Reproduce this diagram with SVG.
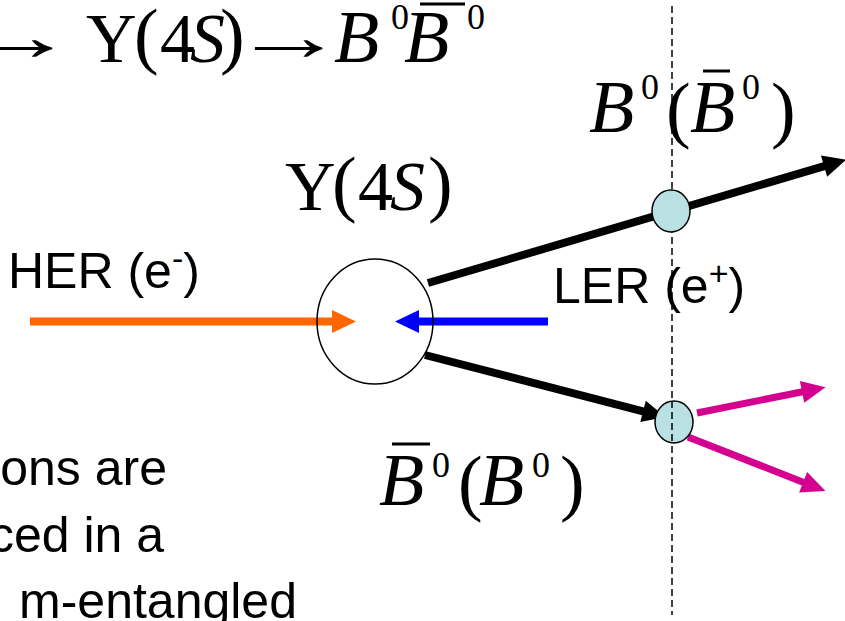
<svg xmlns="http://www.w3.org/2000/svg" width="845" height="621" viewBox="0 0 845 621">
<style>
.m{font-family:"Liberation Serif","Times New Roman",serif;font-size:70px;fill:#000}
.i{font-style:italic}
.b{font-size:74px}
.s{font-size:36px}
.p{font-size:74px}
.t{font-family:"Liberation Sans",Arial,sans-serif;font-size:50px;fill:#000}
.bar{stroke:#000;stroke-width:3}
.blk{stroke:#000;stroke-width:8;fill:none}
.org{stroke:#FF6600;stroke-width:8;fill:none}
.blu{stroke:#0000FF;stroke-width:8;fill:none}
.mag{stroke:#D4008F;stroke-width:7;fill:none}
.dot{fill:#B9E0E3;stroke:#000;stroke-width:1.5}
.dash{stroke:#000;stroke-width:1.5;stroke-dasharray:7 4}
</style>
<defs>
<marker id="hBlk" markerUnits="userSpaceOnUse" markerWidth="24" markerHeight="24" refX="2" refY="11" orient="auto" overflow="visible"><path d="M0,0 L23,11 L0,22 z" fill="#000"/></marker>
<marker id="hOrg" markerUnits="userSpaceOnUse" markerWidth="26" markerHeight="24" refX="2" refY="11.5" orient="auto" overflow="visible"><path d="M0,0 L24,11.5 L0,23 z" fill="#FF6600"/></marker>
<marker id="hBlu" markerUnits="userSpaceOnUse" markerWidth="26" markerHeight="24" refX="2" refY="11.5" orient="auto" overflow="visible"><path d="M0,0 L24,11.5 L0,23 z" fill="#0000FF"/></marker>
<marker id="hMag" markerUnits="userSpaceOnUse" markerWidth="26" markerHeight="24" refX="2" refY="11" orient="auto" overflow="visible"><path d="M0,0 L24,11 L0,22 z" fill="#D4008F"/></marker>
</defs>

<g id="formula">
<text class="m" x="-46" y="60" textLength="124" lengthAdjust="spacingAndGlyphs">→</text>
<text class="m" x="86" y="62">Υ</text>
<text class="m p" x="134" y="60">(</text>
<text class="m" x="160" y="62">4</text>
<text class="m i" x="190" y="62">S</text>
<text class="m p" x="220" y="60">)</text>
<text class="m" x="232" y="60" textLength="114" lengthAdjust="spacingAndGlyphs">→</text>
<text class="m i b" x="334" y="62">B</text>
<text class="m s" x="391" y="29">0</text>
<text class="m i b" x="404" y="62">B</text>
<line class="bar" x1="420" y1="4" x2="465" y2="4"/>
<text class="m s" x="467" y="29">0</text>
</g>

<g id="dashed-line">
<line class="dash" x1="672" y1="6" x2="672" y2="615"/>
</g>

<g id="connectors">
<line class="org" x1="30" y1="321.5" x2="334" y2="321.5" marker-end="url(#hOrg)"/>
<line class="blu" x1="548" y1="321.5" x2="417" y2="321.5" marker-end="url(#hBlu)"/>
<line class="blk" x1="428" y1="283" x2="826" y2="165.6" marker-end="url(#hBlk)"/>
<line class="blk" x1="425" y1="355" x2="645" y2="411.8" marker-end="url(#hBlk)"/>
<line class="mag" x1="697" y1="413" x2="804" y2="391.5" marker-end="url(#hMag)"/>
<line class="mag" x1="688" y1="437" x2="805" y2="483" marker-end="url(#hMag)"/>
</g>

<g id="upsilon">
<ellipse cx="375" cy="321.5" rx="58" ry="62.5" fill="none" stroke="#000" stroke-width="1.5"/>
</g>
<g id="b-decay-vertex">
<ellipse class="dot" cx="674" cy="422" rx="19" ry="21"/>
</g>
<g id="dashed-overlay">
<line class="dash" x1="672" y1="401" x2="672" y2="443"/>
</g>
<g id="b-vertex">
<ellipse class="dot" cx="671" cy="211" rx="19" ry="21"/>
</g>

<g id="upsilon-label">
<text class="m" x="285" y="210">Υ</text>
<text class="m p" x="332" y="208">(</text>
<text class="m" x="358" y="210">4</text>
<text class="m i" x="390" y="210">S</text>
<text class="m p" x="428" y="208">)</text>
</g>

<g id="b-label-top">
<text class="m i b" x="589" y="132">B</text>
<text class="m s" x="641" y="99">0</text>
<text class="m p" x="666" y="134">(</text>
<text class="m i b" x="690" y="132">B</text>
<line class="bar" x1="703" y1="71" x2="730" y2="71"/>
<text class="m s" x="742" y="99">0</text>
<text class="m p" x="771" y="134">)</text>
</g>

<g id="b-label-bottom">
<text class="m i b" x="379" y="505">B</text>
<line class="bar" x1="392" y1="444" x2="430" y2="444"/>
<text class="m s" x="432" y="477">0</text>
<text class="m p" x="458" y="507">(</text>
<text class="m i b" x="479" y="505">B</text>
<text class="m s" x="532" y="477">0</text>
<text class="m p" x="560" y="507">)</text>
</g>

<g id="her-label">
<text class="t" x="8" y="288" font-size="52">HER (e<tspan dy="-18" font-size="34">-</tspan><tspan dy="18">)</tspan></text>
</g>
<g id="ler-label">
<text class="t" x="553" y="303" font-size="52">LER (e<tspan dy="-18" font-size="34">+</tspan><tspan dy="18">)</tspan></text>
</g>

<g id="caption">
<text class="t" x="167" y="485" text-anchor="end">ons are</text>
<text class="t" x="164" y="552" text-anchor="end">ced in a</text>
<text class="t" x="297" y="618" text-anchor="end">m-entangled</text>
</g>
</svg>
